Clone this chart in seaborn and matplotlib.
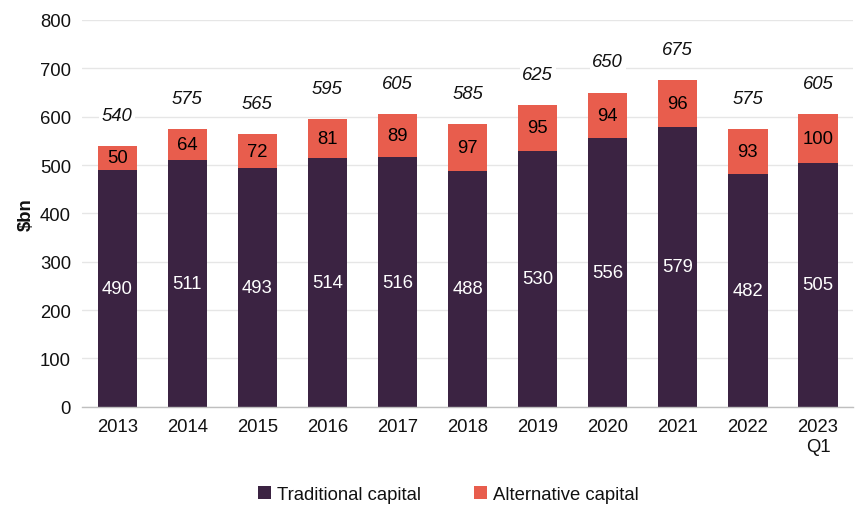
import matplotlib
matplotlib.use("Agg")
import matplotlib.pyplot as plt
import seaborn as sns
import pandas as pd
import numpy as np

years = ["2013", "2014", "2015", "2016", "2017", "2018", "2019", "2020", "2021", "2022", "2023\nQ1"]
traditional = [490, 511, 493, 514, 516, 488, 530, 556, 579, 482, 505]
alternative = [50, 64, 72, 81, 89, 97, 95, 94, 96, 93, 100]
totals = [540, 575, 565, 595, 605, 585, 625, 650, 675, 575, 605]

dark = "#3B2342"
red = "#E85D4D"
fs = 13.3

sns.set_theme(style="white")
plt.rcParams["font.family"] = ["Liberation Sans", "DejaVu Sans"]
plt.rcParams["text.color"] = "#111111"
plt.rcParams["xtick.color"] = "#111111"
plt.rcParams["ytick.color"] = "#111111"
plt.rcParams["axes.labelcolor"] = "#111111"

df = pd.DataFrame({"year": years, "trad": traditional, "alt": alternative, "total": totals})

fig = plt.figure(figsize=(8.56, 5.06), dpi=100)
ax = fig.add_axes([0.096, 0.194, 0.9005, 0.7645])

# Stacked bars: full height in red, traditional capital drawn over it
sns.barplot(data=df, x="year", y="total", color=red, saturation=1, width=0.56,
            edgecolor="none", ax=ax, label="Alternative capital")
sns.barplot(data=df, x="year", y="trad", color=dark, saturation=1, width=0.56,
            edgecolor="none", ax=ax, label="Traditional capital")

handles, labels = ax.get_legend_handles_labels()
if ax.get_legend() is not None:
    ax.get_legend().remove()

ax.set_ylim(0, 800)
ax.set_xlim(-0.5, len(years) - 0.5)
ax.set_yticks(range(0, 801, 100))
ax.yaxis.grid(True, color="#E6E6E6", linewidth=1)
ax.set_axisbelow(True)
for s in ["top", "right", "left"]:
    ax.spines[s].set_visible(False)
ax.spines["bottom"].set_color("#BFBFBF")
ax.spines["bottom"].set_linewidth(1)

ax.tick_params(axis="y", length=0, labelsize=fs, pad=8)
ax.tick_params(axis="x", which="major", length=0, labelsize=fs, pad=8)
ax.set_xticks(np.arange(-0.5, len(years), 1.0), minor=True)
ax.tick_params(axis="x", which="minor", length=5, color="#BFBFBF", width=1, direction="out")
ax.set_xlabel("")
ax.set_ylabel("$bn", fontsize=fs, fontweight="bold", labelpad=4)

for i, (t, a, tot) in enumerate(zip(traditional, alternative, totals)):
    ax.text(i, t / 2, f"{t}", ha="center", va="center", color="white", fontsize=fs)
    ax.text(i, t + a / 2, f"{a}", ha="center", va="center", color="black", fontsize=fs)
    ax.annotate(f"{tot}", (i, tot), xytext=(0, 22), textcoords="offset points",
                ha="center", va="center", fontsize=fs, style="italic",
                bbox=dict(facecolor="white", edgecolor="none", pad=2))

order = [labels.index("Traditional capital"), labels.index("Alternative capital")]
fig.legend([handles[k] for k in order], [labels[k] for k in order],
           loc="center", bbox_to_anchor=(0.524, 0.02), ncol=2, frameon=False,
           fontsize=fs, handlelength=0.7, handleheight=0.7, handletextpad=0.3,
           columnspacing=2.9)

fig.savefig("out.png", dpi=100)
